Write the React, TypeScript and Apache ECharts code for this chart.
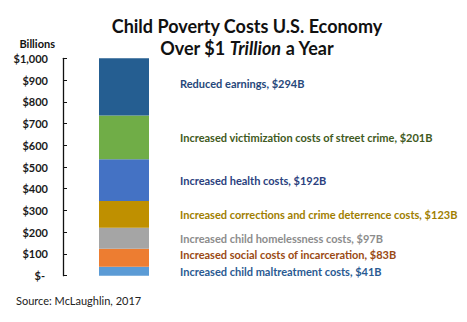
import React, { useEffect, useRef } from "react";
import * as echarts from "echarts";

const categories = ["Child poverty"];
const segmentNames = [
  "Increased child maltreatment costs",
  "Increased social costs of incarceration",
  "Increased child homelessness costs",
  "Increased corrections and crime deterrence costs",
  "Increased health costs",
  "Increased victimization costs of street crime",
  "Reduced earnings",
];
const segmentValues = [41, 83, 97, 123, 192, 201, 294];
const barColors = ["#5B9BD5", "#ED7D31", "#A5A5A5", "#BF9000", "#4472C4", "#70AD47", "#255E91"];
const labelColors = ["#2A5A92", "#9A4A14", "#8C8C8C", "#A07E00", "#2B3F7E", "#3F5A22", "#26477A"];
const yMin = 0;
const yMax = 1000;
const yStep = 100;

const FONT = "Lato, 'Noto Sans', sans-serif";

export default function App() {
  const ref = useRef<HTMLDivElement>(null);
  useEffect(() => {
    document.body.style.margin = "0";
    if (!ref.current) return;
    const chart = echarts.init(ref.current, undefined, { renderer: "svg" });
    chart.setOption({
      animation: false,
      backgroundColor: "#ffffff",
      textStyle: { fontFamily: FONT },
      title: {
        text: "Child Poverty Costs U.S. Economy\nOver $1 {i|Trillion} a Year",
        left: 242,
        textAlign: "center",
        top: 10,
        textStyle: {
          fontFamily: FONT,
          fontWeight: "bold",
          fontSize: 18,
          lineHeight: 22,
          color: "#111111",
          rich: {
            i: { fontFamily: FONT, fontWeight: "bold", fontStyle: "italic", fontSize: 18, lineHeight: 22, color: "#111111" },
          },
        },
      },
      grid: { left: 63, top: 58.3, width: 122, height: 217.4, containLabel: false },
      xAxis: {
        type: "category",
        data: categories,
        show: false,
      },
      yAxis: {
        type: "value",
        min: yMin,
        max: yMax,
        interval: yStep,
        name: "Billions",
        nameLocation: "end",
        nameGap: 9,
        nameTextStyle: { fontFamily: FONT, fontWeight: "bold", fontSize: 11, color: "#111111", align: "right", padding: [0, 8, 0, 0] },
        axisLine: { show: true, lineStyle: { color: "#111111", width: 1.3 } },
        axisTick: { show: true, inside: true, length: 4, lineStyle: { color: "#111111", width: 1 } },
        splitLine: { show: false },
        axisLabel: {
          margin: 15,
          fontFamily: FONT,
          fontWeight: "bold",
          fontSize: 11,
          color: "#1a1a1a",
          formatter: (v: number) => (v === 0 ? "{z|$-}" : "$" + v.toLocaleString("en-US")),
          rich: { z: { fontFamily: FONT, fontWeight: "bold", fontSize: 11, color: "#1a1a1a", padding: [0, 3, 0, 0] } },
        },
      },
      series: segmentNames.map((name, i) => ({
        type: "bar",
        name,
        stack: "total",
        barWidth: 50,
        clip: true,
        itemStyle: { color: barColors[i] },
        label: {
          show: true,
          position: "right",
          distance: 31,
          offset: i === segmentNames.length - 1 ? [0, -3] : i === 1 ? [0, -3] : [0, 0],
          fontFamily: FONT,
          fontWeight: "bold",
          fontSize: 11,
          color: labelColors[i],
          formatter: (p: any) => `${p.seriesName}, $${p.value}B`,
        },
        data: [segmentValues[i]],
      })),
      graphic: [
        {
          type: "text",
          left: 16,
          top: 295,
          style: { text: "Source: McLaughlin, 2017", fontFamily: FONT, fontSize: 11, fill: "#222222" },
        },
      ],
    });
    return () => chart.dispose();
  }, []);
  return <div ref={ref} style={{ width: 467, height: 322 }} />;
}
